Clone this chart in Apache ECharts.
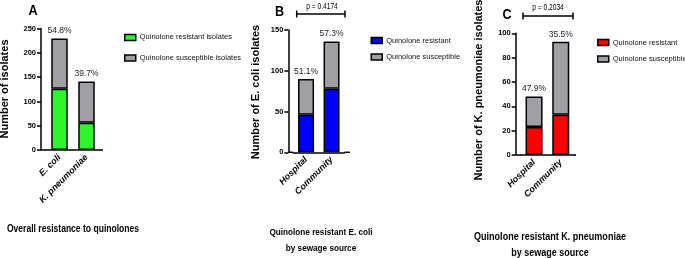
<!DOCTYPE html>
<html>
<head>
<meta charset="utf-8">
<script src="https://cdn.jsdelivr.net/npm/echarts@6/dist/echarts.min.js"></script>
<style>html,body{margin:0;padding:0;background:#fff}#c{width:685px;height:258px}</style>
</head>
<body>
<div id="c"></div>
<script>
// ---- Data ----
const catsA = ['E. coli', 'K. pneumoniae'];
const resistantA = [126, 56];
const susceptibleA = [104, 85];
const pctA = ['54.8%', '39.7%'];

const catsB = ['Hospital', 'Community'];
const resistantB = [46, 78];
const susceptibleB = [44, 58];
const pctB = ['51.1%', '57.3%'];

const catsC = ['Hospital', 'Community'];
const resistantC = [23, 33];
const susceptibleC = [25, 60];
const pctC = ['47.9%', '35.5%'];

const pValueB = 'p = 0.4174';
const pValueC = 'p = 0.2034';

const legendA = ['Quinolone resistant isolates', 'Quinolone susceptible isolates'];
const legendBC = ['Quinolone resistant', 'Quinolone susceptible'];

// ---- Styling ----
const FONT = "'Liberation Sans', Arial, sans-serif";
const GRAY = '#a0a0a4';
const GREEN = '#2ef52e';
const BLUE = '#0000ff';
const RED = '#ff0000';

const chart = echarts.init(document.getElementById('c'), null, {renderer: 'canvas'});

function xAx(idx, cats) {
  return {
    type: 'category', gridIndex: idx, data: cats,
    axisLine: {lineStyle: {color: '#000', width: 1.5}},
    axisTick: {alignWithLabel: true, length: 4, lineStyle: {color: '#000', width: 1.5}},
    axisLabel: {rotate: 45, fontSize: 9, fontWeight: 'bold', fontStyle: 'italic', color: '#000', fontFamily: FONT, margin: 6}
  };
}
function yAx(idx, max, interval) {
  return {
    type: 'value', gridIndex: idx, min: 0, max: max, interval: interval, offset: 5,
    splitLine: {show: false},
    axisLine: {show: true, lineStyle: {color: '#000', width: 1.5}},
    axisTick: {show: true, length: 4, lineStyle: {color: '#000', width: 1.5}},
    axisLabel: {fontSize: 7.5, fontWeight: 'bold', color: '#000', fontFamily: FONT, margin: 5}
  };
}
function barSeries(name, idx, data, color, width, pct) {
  const s = {
    name: name, type: 'bar', xAxisIndex: idx, yAxisIndex: idx, stack: 'p' + idx,
    data: data, barWidth: width,
    itemStyle: {color: color, borderColor: '#000', borderWidth: 1.5},
    emphasis: {disabled: true}, animation: false
  };
  if (pct) {
    s.label = {show: true, position: 'top', distance: 3, fontSize: 8.5, color: '#222', fontFamily: FONT,
      formatter: p => pct[p.dataIndex]};
  }
  return s;
}
function legendItems(names, colors) {
  return names.map((n, i) => ({name: n, itemStyle: {color: colors[i], borderColor: '#000', borderWidth: 1.5}}));
}
function legend(names, colors, left, top, gap) {
  return {
    data: legendItems(names, colors), orient: 'vertical', left: left, top: top,
    itemWidth: 11, itemHeight: 6, itemGap: gap, icon: 'rect', selectedMode: false,
    padding: 0,
    textStyle: {fontSize: 7.5, color: '#111', fontFamily: FONT, padding: [0, 0, 0, -1]}
  };
}
function txt(x, y, text, font, rot, sx) {
  return {type: 'text', x: x, y: y, rotation: rot || 0, scaleX: sx || 1,
    style: {text: text, font: font, fill: '#000', align: 'center', verticalAlign: 'middle'}};
}
function hline(x1, x2, y, w) {
  return {type: 'line', shape: {x1: x1, y1: y, x2: x2, y2: y}, style: {stroke: '#000', lineWidth: w || 1.5}};
}
function vline(x, y1, y2, w) {
  return {type: 'line', shape: {x1: x, y1: y1, x2: x, y2: y2}, style: {stroke: '#000', lineWidth: w || 1.5}};
}
function bracket(x1, x2, y) {
  return [hline(x1, x2, y, 1.5), vline(x1, y - 3.5, y + 3.5, 1.5), vline(x2, y - 3.5, y + 3.5, 1.5)];
}

const option = {
  backgroundColor: '#fff',
  animation: false,
  grid: [
    {left: 46, top: 28.7, width: 54, height: 121.3},
    {left: 293.3, top: 30, width: 51, height: 122.3},
    {left: 520.7, top: 33.3, width: 53.4, height: 121.7}
  ],
  xAxis: [xAx(0, catsA), xAx(1, catsB), xAx(2, catsC)],
  yAxis: [yAx(0, 250, 50), yAx(1, 150, 50), yAx(2, 100, 20)],
  legend: [
    legend(legendA, [GREEN, GRAY], 124, 33.4, 12.5),
    legend(legendBC, [BLUE, GRAY], 370.5, 36.5, 8.5),
    legend(legendBC, [RED, GRAY], 597, 38.5, 8.5)
  ],
  series: [
    barSeries(legendA[0], 0, resistantA, GREEN, 16.5),
    barSeries(legendA[1], 0, susceptibleA, GRAY, 16.5, pctA),
    barSeries(legendBC[0], 1, resistantB, BLUE, 16),
    barSeries(legendBC[1], 1, susceptibleB, GRAY, 16, pctB),
    barSeries(legendBC[0], 2, resistantC, RED, 17),
    barSeries(legendBC[1], 2, susceptibleC, GRAY, 17, pctC)
  ],
  graphic: [
    // x-axis baseline extensions to meet y-axes
    hline(41, 46, 150), hline(100, 103, 150),
    hline(288.3, 293.3, 152.3), hline(344.3, 350, 152.3),
    hline(515.7, 520.7, 155), hline(574, 576, 155),
    // panel letters
    txt(33, 11, 'A', 'bold 14px ' + FONT, 0, 0.9),
    txt(279.5, 12, 'B', 'bold 14px ' + FONT, 0, 0.9),
    txt(507, 15, 'C', 'bold 14px ' + FONT, 0, 0.9),
    // y titles
    txt(5, 89, 'Number of isolates', 'bold 11px ' + FONT, Math.PI / 2),
    txt(255.7, 92, 'Number of E. coli isolates', 'bold 11px ' + FONT, Math.PI / 2),
    txt(478.5, 90, 'Number of K. pneumoniae isolates', 'bold 11px ' + FONT, Math.PI / 2),
    // x titles
    txt(73, 229, 'Overall resistance to quinolones', 'bold 10px ' + FONT, 0, 0.855),
    txt(321, 232, 'Quinolone resistant E. coli', 'bold 9.5px ' + FONT, 0, 0.86),
    txt(321, 248, 'by sewage source', 'bold 9.5px ' + FONT, 0, 0.86),
    txt(550, 237, 'Quinolone resistant K. pneumoniae', 'bold 11px ' + FONT, 0, 0.82),
    txt(550, 252.5, 'by sewage source', 'bold 11px ' + FONT, 0, 0.82),
    // p-values
    ...bracket(296.7, 345, 14),
    txt(322, 6.5, pValueB, '8.5px ' + FONT, 0, 0.78),
    ...bracket(523, 573, 16),
    txt(548, 8, pValueC, '8.5px ' + FONT, 0, 0.78)
  ]
};
chart.setOption(option);
</script>
</body>
</html>
